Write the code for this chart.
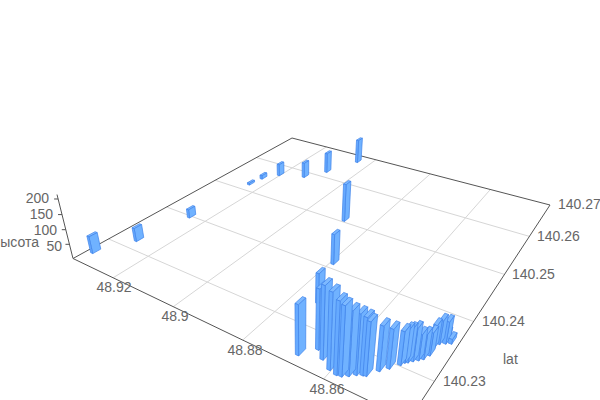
import numpy as np, pandas as pd, altair as alt

# values
lon = [48.9331,48.9282,48.9253,48.9242,48.9235,48.9204,48.9130,48.9090,48.9045,48.8879,48.8792,48.8680,
       48.8738,48.8655,48.8632,48.8605,48.8587,48.8577,48.8566,48.8555,48.8544,48.8538,48.8523,48.8510,
       48.8496,48.8492,48.8487,48.8480,48.8472,48.8465,48.8459,48.8461,48.8456,48.8446,48.8447,48.8436]
lat = [140.2273,140.2321,140.2401,140.2522,140.2548,140.2572,140.2588,140.2622,140.2680,140.2508,140.2414,140.2265,
       140.2342,140.2282,140.2273,140.2265,140.2263,140.2264,140.2268,140.2273,140.2276,140.2277,140.2289,140.2297,
       140.2307,140.2312,140.2314,140.2318,140.2322,140.2326,140.2334,140.2345,140.2354,140.2358,140.2361,140.2361]
height = [59,47,31,7,14,45,58,77,93,135,103,154,
          98,183,218,226,215,206,191,180,171,161,136,120,
          103,101,101,101,81,78,71,73,74,69,27,15]
lon_ticks = [48.92,48.9,48.88,48.86]
lat_ticks = [140.23,140.24,140.25,140.26,140.27]
z_ticks = [50,100,150,200]
lon_labels = ["48.92","48.9","48.88","48.86"]
lat_labels = ["140.23","140.24","140.25","140.26","140.27"]

# camera: the ground corners and the vertical vanishing point seen in the picture
LON0, LON1, LAT0, LAT1, ZTOP = 48.935, 48.842, 140.2247, 140.27, 214
corners = [((LON0,LAT0),(73,258.5)),((LON0,LAT1),(292,138)),((LON1,LAT1),(550,205)),((LON1,LAT0),(409,420))]
A=[];b=[]
for (u,v),(x,y) in corners:
    u-=48.9; v-=140.25
    A.append([u,v,1,0,0,0,-u*x,-v*x]); b.append(x)
    A.append([0,0,0,u,v,1,-u*y,-v*y]); b.append(y)
H=np.append(np.linalg.solve(np.array(A),np.array(b)),1).reshape(3,3)
wA=H[2]@np.array([LON0-48.9,LAT0-140.25,1])
lam=-0.0653/214*wA
V=np.array([302,1174,1.0])
def proj(u,v,z=0):
    p=H@np.array([u-48.9,v-140.25,1])+z*lam*V
    return p[0]/p[2],p[1]/p[2]

DLON, DLAT = 0.0004, 0.0006
TOP, LEFT, RIGHT, EDGE = "#7db9ff","#70b2ff","#66aaff","#4285ea"
order = sorted(range(len(lon)), key=lambda i: proj(lon[i],lat[i])[1])
rows=[]
for i in order:
    u0,u1,v0,v1=lon[i]-DLON,lon[i]+DLON,lat[i]-DLAT,lat[i]+DLAT
    z=height[i]
    faces=[("a",TOP,[(u0,v0,z),(u0,v1,z),(u1,v1,z),(u1,v0,z)]),
           ("b",LEFT,[(u0,v0,0),(u0,v1,0),(u0,v1,z),(u0,v0,z)]),
           ("c",RIGHT,[(u0,v0,0),(u1,v0,0),(u1,v0,z),(u0,v0,z)])]
    for name,col,pts in faces:
        for k,(a,c,d) in enumerate(pts):
            x,y=proj(a,c,d)
            rows.append(dict(x=x,y=y,poly=f"{i:02d}{name}",k=k,col=col))
bars=pd.DataFrame(rows)

def seg(name,p,q): 
    return [dict(x=p[0],y=p[1],s=name,k=0),dict(x=q[0],y=q[1],s=name,k=1)]
g=[]
for t in lon_ticks: g+=seg(f"lon{t}",proj(t,LAT0),proj(t,LAT1))
for t in lat_ticks[:-1]: g+=seg(f"lat{t}",proj(LON0,t),proj(LON1,t))
grid=pd.DataFrame(g)
e=[]
e+=seg("e1",proj(LON0,LAT0),proj(LON1,LAT0))
e+=seg("e2",proj(LON1,LAT0),proj(LON1,LAT1))
e+=seg("e3",proj(LON1,LAT1),proj(LON0,LAT1))
e+=seg("e4",proj(LON0,LAT1),proj(LON0,LAT0))
e+=seg("e5",proj(LON0,LAT0),proj(LON0,LAT0,ZTOP))
for t in z_ticks:
    p=proj(LON0,LAT0,t); e+=seg(f"t{t}",p,(p[0]-4,p[1]))
edges=pd.DataFrame(e)

lab_c=pd.DataFrame(dict(x=[114,175,245,327],y=[288,317,351,390],t=lon_labels))
lab_l=pd.DataFrame(dict(x=[443,482,512,537,558,503],y=[382,322,275,237,205,360],t=lat_labels+["lat"]))
lab_r=pd.DataFrame(dict(x=[62,57,53,49,39],y=[247,231,215,199,243],t=[str(t) for t in z_ticks]+["высота"]))

X=alt.X("x:Q",axis=None,scale=alt.Scale(domain=[0,600],zero=False,nice=False))
Y=alt.Y("y:Q",axis=None,scale=alt.Scale(domain=[400,0],zero=False,nice=False))
def lines(df,color,w):
    return alt.Chart(df).mark_line(color=color,strokeWidth=w).encode(x=X,y=Y,detail="s:N",order="k:Q")
def texts(df,align):
    return alt.Chart(df).mark_text(font="Liberation Sans",fontSize=14,color="#666666",align=align,baseline="middle").encode(x=X,y=Y,text="t:N")
barlayer=alt.Chart(bars).mark_line(interpolate="linear-closed",stroke=EDGE,strokeWidth=0.8,strokeOpacity=0.9).encode(
    x=X,y=Y,detail="poly:N",order="k:Q",fill=alt.Fill("col:N",scale=None))
chart=alt.layer(lines(grid,"#d6d6d6",1),lines(edges,"#555555",1),barlayer,
    texts(lab_c,"center"),texts(lab_l,"left"),texts(lab_r,"right")).properties(
    width=600,height=400,padding=0,autosize=alt.AutoSizeParams(type="none")).configure_view(stroke=None)
chart.save("out.html",embed_options={"renderer":"svg","actions":False,"defaultStyle":"html,body{margin:0!important;padding:0;overflow:hidden}"})
